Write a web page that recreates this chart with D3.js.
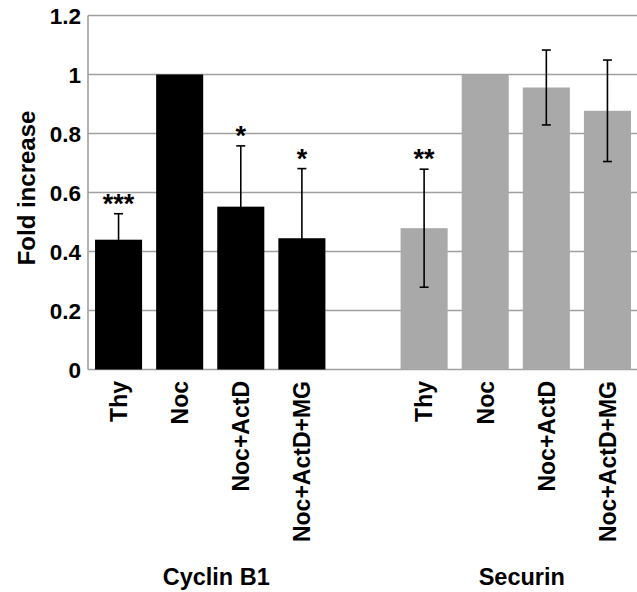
<!DOCTYPE html>
<html>
<head>
<meta charset="utf-8">
<script src="https://cdn.jsdelivr.net/npm/d3@7"></script>
<style>
  html, body { margin: 0; padding: 0; background: #fff; }
  svg { display: block; font-family: "Liberation Sans", Arial, sans-serif; }
</style>
</head>
<body>
<svg id="chart" width="637" height="592"></svg>
<script>
// ---- data ----
const categories = ["Thy", "Noc", "Noc+ActD", "Noc+ActD+MG"];
const groups = ["Cyclin B1", "Securin"];
const cyclinValues = [0.44, 1.0, 0.552, 0.445];
const cyclinErrors = [0.088, 0, 0.206, 0.236];
const cyclinStars = ["***", "", "*", "*"];
const securinValues = [0.479, 1.0, 0.956, 0.877];
const securinErrors = [0.2, 0, 0.127, 0.172];
const securinStars = ["**", "", "", ""];
const yTicks = [0, 0.2, 0.4, 0.6, 0.8, 1.0, 1.2];

// ---- build rows ----
const groupColors = ["#000000", "#a9a9a9"];
const seriesValues = [cyclinValues, securinValues];
const seriesErrors = [cyclinErrors, securinErrors];
const seriesStars = [cyclinStars, securinStars];
const rows = [];
const slots = [];
groups.forEach((g, gi) => {
  if (gi > 0) slots.push("gap" + gi);
  categories.forEach((c, ci) => {
    const key = g + "|" + c;
    slots.push(key);
    rows.push({ key, group: g, gi, cat: c, value: seriesValues[gi][ci], err: seriesErrors[gi][ci], star: seriesStars[gi][ci] });
  });
});

const svg = d3.select("#chart");
const x0 = 88, x1 = 638, yTop = 15.5, yBottom = 369.5;

const x = d3.scaleBand().domain(slots).range([x0, x1]).paddingInner(0.23).paddingOuter(0.115);
const y = d3.scaleLinear().domain([0, 1.2]).range([yBottom, yTop]);

const fmt = d => d === 0 ? "0" : String(+d.toFixed(1));

// gridlines
svg.append("g").selectAll("line").data(yTicks).join("line")
  .attr("x1", x0).attr("x2", 637)
  .attr("y1", d => y(d)).attr("y2", d => y(d))
  .attr("stroke", "#a0a0a0").attr("stroke-width", 1.6);

// y axis line
svg.append("line").attr("x1", x0).attr("x2", x0).attr("y1", y(1.2)).attr("y2", y(0))
  .attr("stroke", "#a0a0a0").attr("stroke-width", 1.6);

// y tick labels
svg.append("g").selectAll("text").data(yTicks).join("text")
  .attr("x", 81).attr("y", d => y(d)).attr("dy", "0.36em")
  .attr("text-anchor", "end").attr("font-size", 22.5).attr("font-weight", "bold")
  .text(fmt);

// y title
svg.append("text")
  .attr("transform", "translate(35,188) rotate(-90)")
  .attr("text-anchor", "middle").attr("font-size", 24).attr("font-weight", "bold")
  .text("Fold increase");

// bars
svg.append("g").selectAll("rect").data(rows).join("rect")
  .attr("x", d => x(d.key)).attr("width", x.bandwidth())
  .attr("y", d => y(d.value)).attr("height", d => y(0) - y(d.value))
  .attr("fill", d => groupColors[d.gi]);

// error bars
const eb = svg.append("g").selectAll("g").data(rows.filter(d => d.err > 0)).join("g")
  .attr("stroke", "#000").attr("stroke-width", 1.6);
eb.append("line")
  .attr("x1", d => x(d.key) + x.bandwidth() / 2).attr("x2", d => x(d.key) + x.bandwidth() / 2)
  .attr("y1", d => y(d.value + d.err)).attr("y2", d => y(d.value - d.err));
eb.append("line")
  .attr("x1", d => x(d.key) + x.bandwidth() / 2 - 4.5).attr("x2", d => x(d.key) + x.bandwidth() / 2 + 4.5)
  .attr("y1", d => y(d.value + d.err)).attr("y2", d => y(d.value + d.err));
eb.append("line")
  .attr("x1", d => x(d.key) + x.bandwidth() / 2 - 4.5).attr("x2", d => x(d.key) + x.bandwidth() / 2 + 4.5)
  .attr("y1", d => y(d.value - d.err)).attr("y2", d => y(d.value - d.err));

// significance stars
svg.append("g").selectAll("text").data(rows.filter(d => d.star)).join("text")
  .attr("x", d => x(d.key) + x.bandwidth() / 2)
  .attr("y", d => y(d.value + d.err) - 1)
  .attr("text-anchor", "middle").attr("font-size", 27).attr("font-weight", "bold")
  .text(d => d.star);

// category labels (rotated)
svg.append("g").selectAll("text").data(rows).join("text")
  .attr("transform", d => `translate(${x(d.key) + x.bandwidth() / 2},381) rotate(-90)`)
  .attr("dy", "0.36em")
  .attr("text-anchor", "end").attr("font-size", 23).attr("font-weight", "bold")
  .text(d => d.cat);

// group labels
svg.append("g").selectAll("text").data(groups).join("text")
  .attr("x", (g, gi) => {
    const first = x(g + "|" + categories[0]);
    const last = x(g + "|" + categories[categories.length - 1]) + x.bandwidth();
    return (first + last) / 2 + 6;
  })
  .attr("y", 585)
  .attr("text-anchor", "middle").attr("font-size", 23.5).attr("font-weight", "bold")
  .text(g => g);
</script>
</body>
</html>
